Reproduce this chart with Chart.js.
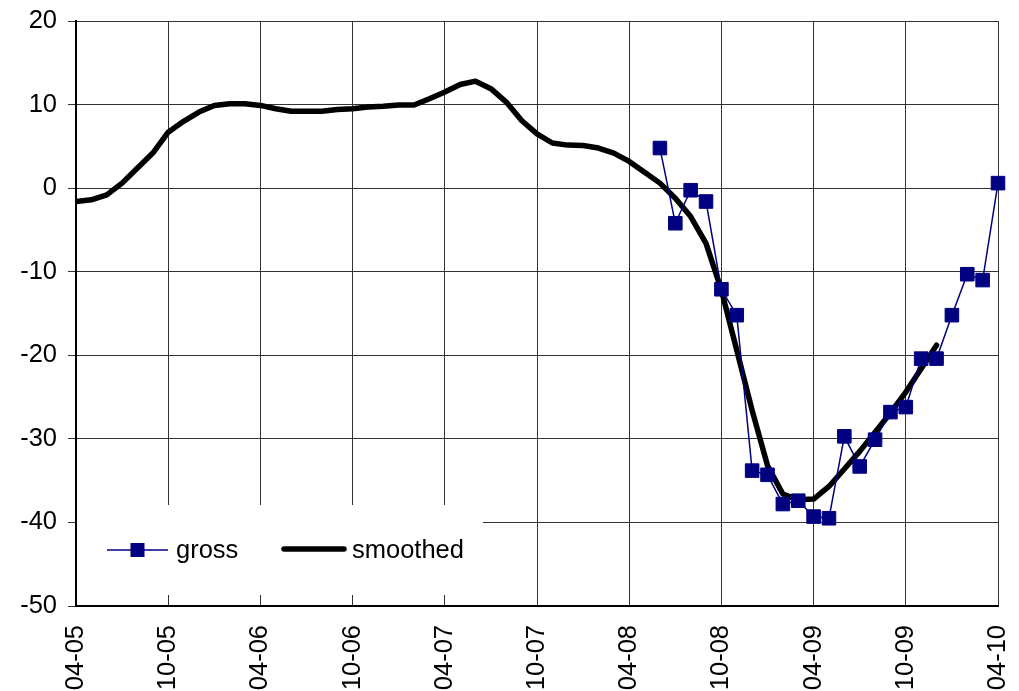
<!DOCTYPE html>
<html>
<head>
<meta charset="utf-8">
<script src="https://cdn.jsdelivr.net/npm/chart.js@4/dist/chart.umd.min.js"></script>
<style>
  body { margin: 0; background: #fff; }
  #wrap { width: 1019px; height: 691px; position: relative; }
</style>
</head>
<body>
<div id="wrap"><canvas id="chart"></canvas></div>
<script>
// tick labels every 6 months, x is month index from 04-05
const tickLabels = ['04-05', '10-05', '04-06', '10-06', '04-07', '10-07', '04-08', '10-08', '04-09', '10-09', '04-10'];

// smoothed series, monthly from 04-05 (index 0)
const smoothedStart = 0;
const smoothed = [
  -1.6, -1.4, -0.8, 0.6, 2.4, 4.2, 6.7, 8.0, 9.1, 9.9,
  10.1, 10.1, 9.9, 9.5, 9.2, 9.2, 9.2, 9.4, 9.5, 9.7,
  9.8, 9.95, 9.95, 10.7, 11.5, 12.4, 12.8, 11.9, 10.3, 8.1,
  6.5, 5.4, 5.15, 5.1, 4.8, 4.2, 3.2, 1.9, 0.6, -1.2,
  -3.4, -6.6, -12.2, -19.4, -26.6, -33.2, -36.6, -37.3, -37.2, -35.7,
  -33.6, -31.5, -29.2, -26.9, -24.4, -21.6, -18.8
];

// gross series, monthly from 06-08 (index 38)
const grossStart = 38;
const gross = [
  4.8, -4.2, -0.25, -1.6, -12.1, -15.2, -33.8, -34.3, -37.8, -37.4,
  -39.3, -39.5, -29.7, -33.3, -30.1, -26.8, -26.2, -20.4, -20.4, -15.2,
  -10.3, -11.0, 0.6
];

const FONT = 'Liberation Sans, Arial, sans-serif';

// legend drawn inside the plot, bottom left, on white box like Excel
const boxLegend = {
  id: 'boxLegend',
  afterDatasetsDraw(chart) {
    const c = chart.ctx;
    const a = chart.chartArea;
    const x0 = a.left + 1, y0 = a.bottom - 101, w = 406, h = 90;
    c.save();
    c.fillStyle = '#fff';
    c.fillRect(x0, y0, w, h);
    const cy = y0 + 45;
    c.font = '25.5px ' + FONT;
    c.textBaseline = 'middle';
    c.fillStyle = '#000';

    // gross
    const g = chart.data.datasets[0];
    c.strokeStyle = g.borderColor;
    c.lineWidth = g.borderWidth;
    c.beginPath();
    c.moveTo(x0 + 30, cy); c.lineTo(x0 + 91, cy); c.stroke();
    c.fillStyle = g.pointBackgroundColor;
    c.fillRect(x0 + 53.5, cy - 7, 14, 14);
    c.fillStyle = '#000';
    c.fillText(g.label, x0 + 99, cy + 1);

    // smoothed
    const s = chart.data.datasets[1];
    c.strokeStyle = s.borderColor;
    c.lineWidth = s.borderWidth;
    c.lineCap = 'round';
    c.beginPath();
    c.moveTo(x0 + 207, cy - 1); c.lineTo(x0 + 267, cy - 1); c.stroke();
    c.fillText(s.label, x0 + 275, cy + 1);
    c.restore();
  }
};

// fixed axis sizes, no extra label overhang padding
function fixX(s) { s.height = 85; s.paddingLeft = 0; s.paddingRight = 0; }
function fixY(s) { s.width = 76; s.paddingTop = 0; s.paddingBottom = 0; }

const ctx = document.getElementById('chart').getContext('2d');
new Chart(ctx, {
  type: 'line',
  data: {
    datasets: [
      {
        label: 'gross',
        data: gross.map((v, i) => ({ x: grossStart + i, y: v })),
        borderColor: '#000080',
        borderWidth: 1.5,
        pointStyle: 'rect',
        pointRadius: 9.6,
        pointBackgroundColor: '#000080',
        pointBorderColor: '#000080',
        pointBorderWidth: 1,
        tension: 0,
        clip: false
      },
      {
        label: 'smoothed',
        data: smoothed.map((v, i) => ({ x: smoothedStart + i, y: v })),
        borderColor: '#000',
        borderWidth: 5.5,
        borderJoinStyle: 'round',
        borderCapStyle: 'round',
        pointRadius: 0,
        tension: 0
      }
    ]
  },
  options: {
    responsive: true,
    maintainAspectRatio: false,
    animation: false,
    devicePixelRatio: 1,
    layout: { padding: { top: 21, right: 21, left: 0, bottom: 0 } },
    plugins: { legend: { display: false }, tooltip: { enabled: false } },
    scales: {
      x: {
        type: 'linear',
        min: 0,
        max: 60,
        afterFit: fixX,
        grid: { color: '#333', lineWidth: 1, drawTicks: false },
        border: { color: '#000', width: 2 },
        ticks: {
          stepSize: 6,
          autoSkip: false,
          maxRotation: 90,
          minRotation: 90,
          padding: 19,
          color: '#000',
          font: { family: FONT, size: 25.5 },
          callback: (v) => tickLabels[v / 6]
        }
      },
      y: {
        min: -50,
        max: 20,
        afterFit: fixY,
        grid: { color: '#333', lineWidth: 1, tickLength: 8 },
        border: { color: '#000', width: 2 },
        ticks: {
          stepSize: 10,
          padding: 11,
          color: '#000',
          font: { family: FONT, size: 25.5 }
        }
      }
    }
  },
  plugins: [boxLegend]
});
</script>
</body>
</html>
